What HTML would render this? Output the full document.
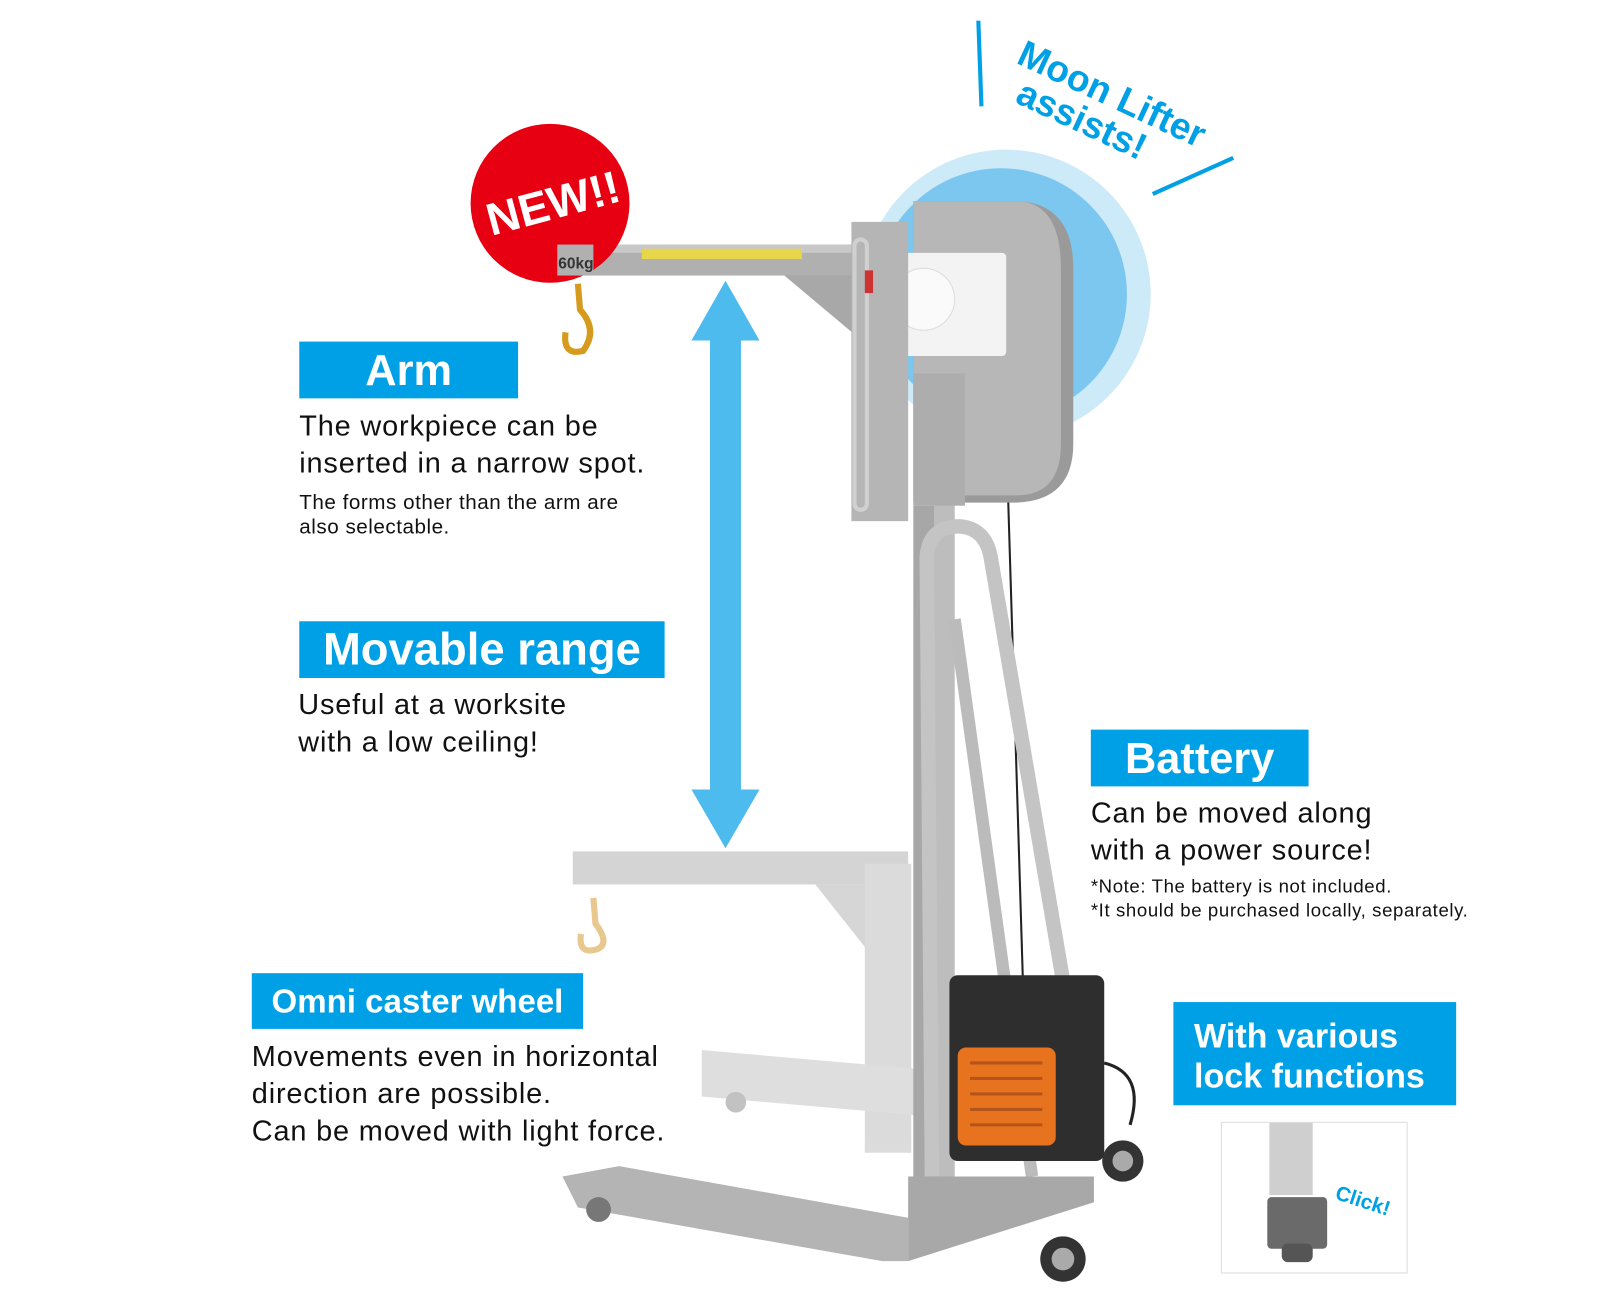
<!DOCTYPE html>
<html><head><meta charset="utf-8"><style>
html,body{margin:0;padding:0;background:#fff;overflow:hidden;width:1617px;height:1300px}
#w{position:absolute;left:0;top:0;width:1567px;height:1260px;transform:scale(1.032);transform-origin:0 0;font-family:"Liberation Sans",sans-serif}
.lab{position:absolute;background:#00a0e6;color:#fff;font-weight:bold;box-sizing:border-box}
.t{position:absolute;color:#111;font-size:28px;letter-spacing:0.8px;line-height:36px;white-space:nowrap}
.s{position:absolute;color:#111;font-size:20px;letter-spacing:0.5px;line-height:24px;white-space:nowrap}
</style></head><body><div id="w">
<svg width="1567" height="1260" style="position:absolute;left:0;top:0">
<circle cx="975" cy="285" r="140" fill="#cdeaf8"/>
<circle cx="970" cy="285" r="122" fill="#7cc7f0"/>
<line x1="948" y1="20" x2="951" y2="103" stroke="#00a0e6" stroke-width="4"/>
<line x1="1117" y1="188" x2="1195" y2="153" stroke="#00a0e6" stroke-width="4"/>
<g transform="translate(1070,112) rotate(25)" fill="#00a0e6" font-weight="bold" font-family="Liberation Sans,sans-serif">
<text x="-2" y="-10" font-size="36" text-anchor="middle">Moon Lifter</text>
<text x="-18" y="25" font-size="36" text-anchor="middle">assists!</text></g>
<polygon points="703,272 736,330 718,330 718,765 736,765 703,822 670,765 688,765 688,330 670,330" fill="#4dbbee"/>
<g opacity="0.6">
<rect x="555" y="825" width="325" height="32" fill="#b8b8b8"/>
<polygon points="790,857 880,857 880,920 840,920" fill="#bbb"/>
<rect x="838" y="837" width="45" height="280" fill="#c4c4c4"/>
<rect x="680" y="1033" width="220" height="45" fill="#c8c8c8" transform="skewY(5) translate(0,-75)"/>
<circle cx="713" cy="1068" r="10" fill="#999"/>
</g>
<rect x="885" y="490" width="40" height="650" fill="#a7a7a7"/>
<rect x="905" y="490" width="20" height="650" fill="#bdbdbd"/>
<path d="M885 195 L990 195 Q1040 200 1040 260 L1040 430 Q1040 485 985 487 L885 487 Z" fill="#9a9a9a"/>
<path d="M885 195 L990 195 Q1028 200 1028 260 L1028 430 Q1028 480 985 480 L885 480 Z" fill="#b7b7b7"/>
<rect x="885" y="362" width="50" height="128" fill="#adadad"/>
<rect x="870" y="245" width="105" height="100" fill="#f3f3f3" rx="4"/>
<ellipse cx="895" cy="290" rx="30" ry="30" fill="#fafafa" stroke="#ddd"/>
<line x1="977" y1="487" x2="993" y2="1010" stroke="#222" stroke-width="2"/>
<rect x="540" y="237" width="300" height="30" fill="#b0b0b0"/>
<rect x="540" y="237" width="300" height="8" fill="#c8c8c8"/>
<rect x="622" y="241" width="155" height="10" fill="#e8d64a"/>
<polygon points="760,267 835,267 835,330" fill="#a8a8a8"/>
<rect x="825" y="215" width="55" height="290" fill="#b5b5b5"/>
<rect x="828" y="232" width="12" height="262" rx="6" fill="none" stroke="#d0d0d0" stroke-width="4"/>
<rect x="838" y="262" width="8" height="22" fill="#c33"/>
<path d="M903 1140 L898 540 Q900 510 930 510 Q955 512 960 540 L1030 950" fill="none" stroke="#c4c4c4" stroke-width="14"/>
<path d="M925 600 L1000 1140" fill="none" stroke="#bbb" stroke-width="12"/>
<polygon points="545,1140 600,1130 880,1180 880,1222 855,1222 560,1170" fill="#b4b4b4"/>
<polygon points="880,1140 1060,1140 1060,1165 880,1222" fill="#a8a8a8"/>
<circle cx="580" cy="1172" r="12" fill="#777"/>
<rect x="920" y="945" width="150" height="180" rx="8" fill="#2e2e2e"/>
<rect x="928" y="1015" width="95" height="95" rx="8" fill="#e8731e"/>
<g stroke="#b5541a" stroke-width="3"><line x1="940" y1="1030" x2="1010" y2="1030"/><line x1="940" y1="1045" x2="1010" y2="1045"/><line x1="940" y1="1060" x2="1010" y2="1060"/><line x1="940" y1="1075" x2="1010" y2="1075"/><line x1="940" y1="1090" x2="1010" y2="1090"/></g>
<path d="M1070 1030 Q1110 1040 1095 1090" fill="none" stroke="#222" stroke-width="3"/>
<circle cx="1088" cy="1125" r="20" fill="#333"/><circle cx="1088" cy="1125" r="10" fill="#aaa"/>
<circle cx="1030" cy="1220" r="22" fill="#333"/><circle cx="1030" cy="1220" r="11" fill="#aaa"/>
<path d="M560 275 L562 300 Q580 320 565 340 Q545 345 548 322" fill="none" stroke="#d69a1c" stroke-width="6"/>
<path d="M575 870 L577 895 Q592 915 578 920 Q560 925 563 905" fill="none" stroke="#e0b060" stroke-width="6" opacity="0.7"/>
<circle cx="533" cy="197" r="77" fill="#e60012"/>
<rect x="540" y="237" width="35" height="30" fill="#b0b0b0"/>
<text x="541" y="260" font-size="15" font-weight="bold" fill="#333" font-family="Liberation Sans,sans-serif">60kg</text>
<text x="536" y="212" font-size="44" font-weight="bold" fill="#fff" text-anchor="middle" transform="rotate(-15 536 197)" font-family="Liberation Sans,sans-serif">NEW!!</text>
<rect x="1183.5" y="1087.5" width="180" height="146" fill="#fff" stroke="#ddd"/>
<rect x="1230" y="1088" width="42" height="70" fill="#cfcfcf"/>
<rect x="1228" y="1160" width="58" height="50" rx="4" fill="#6a6a6a"/>
<rect x="1242" y="1205" width="30" height="18" rx="6" fill="#555"/>
<text x="1293" y="1170" font-size="20" font-weight="bold" fill="#00a0e6" transform="rotate(18 1320 1165)" font-family="Liberation Sans,sans-serif">Click!</text>
</svg>

<div class="lab" style="left:290px;top:331px;width:212px;height:55px;font-size:42px;line-height:55px;text-align:center">Arm</div>
<div class="t" style="left:290px;top:395px">The workpiece can be<br>inserted in a narrow spot.</div>
<div class="s" style="left:290px;top:475px">The forms other than the arm are<br>also selectable.</div>

<div class="lab" style="left:290px;top:602px;width:354px;height:55px;font-size:44px;line-height:55px;text-align:center">Movable range</div>
<div class="t" style="left:289px;top:665px">Useful at a worksite<br>with a low ceiling!</div>

<div class="lab" style="left:1057px;top:707px;width:211px;height:55px;font-size:42px;line-height:55px;text-align:center">Battery</div>
<div class="t" style="left:1057px;top:770px">Can be moved along<br>with a power source!</div>
<div class="s" style="left:1057px;top:848px;font-size:18px;line-height:23px;letter-spacing:0.6px">*Note: The battery is not included.<br>*It should be purchased locally, separately.</div>

<div class="lab" style="left:244px;top:943px;width:321px;height:54px;font-size:32px;line-height:54px;text-align:center">Omni caster wheel</div>
<div class="t" style="left:244px;top:1006px">Movements even in horizontal<br>direction are possible.<br>Can be moved with light force.</div>

<div class="lab" style="left:1137px;top:971px;width:274px;height:100px;font-size:33px;line-height:39px;padding:13px 0 0 20px">With various<br>lock functions</div>
</div></body></html>
